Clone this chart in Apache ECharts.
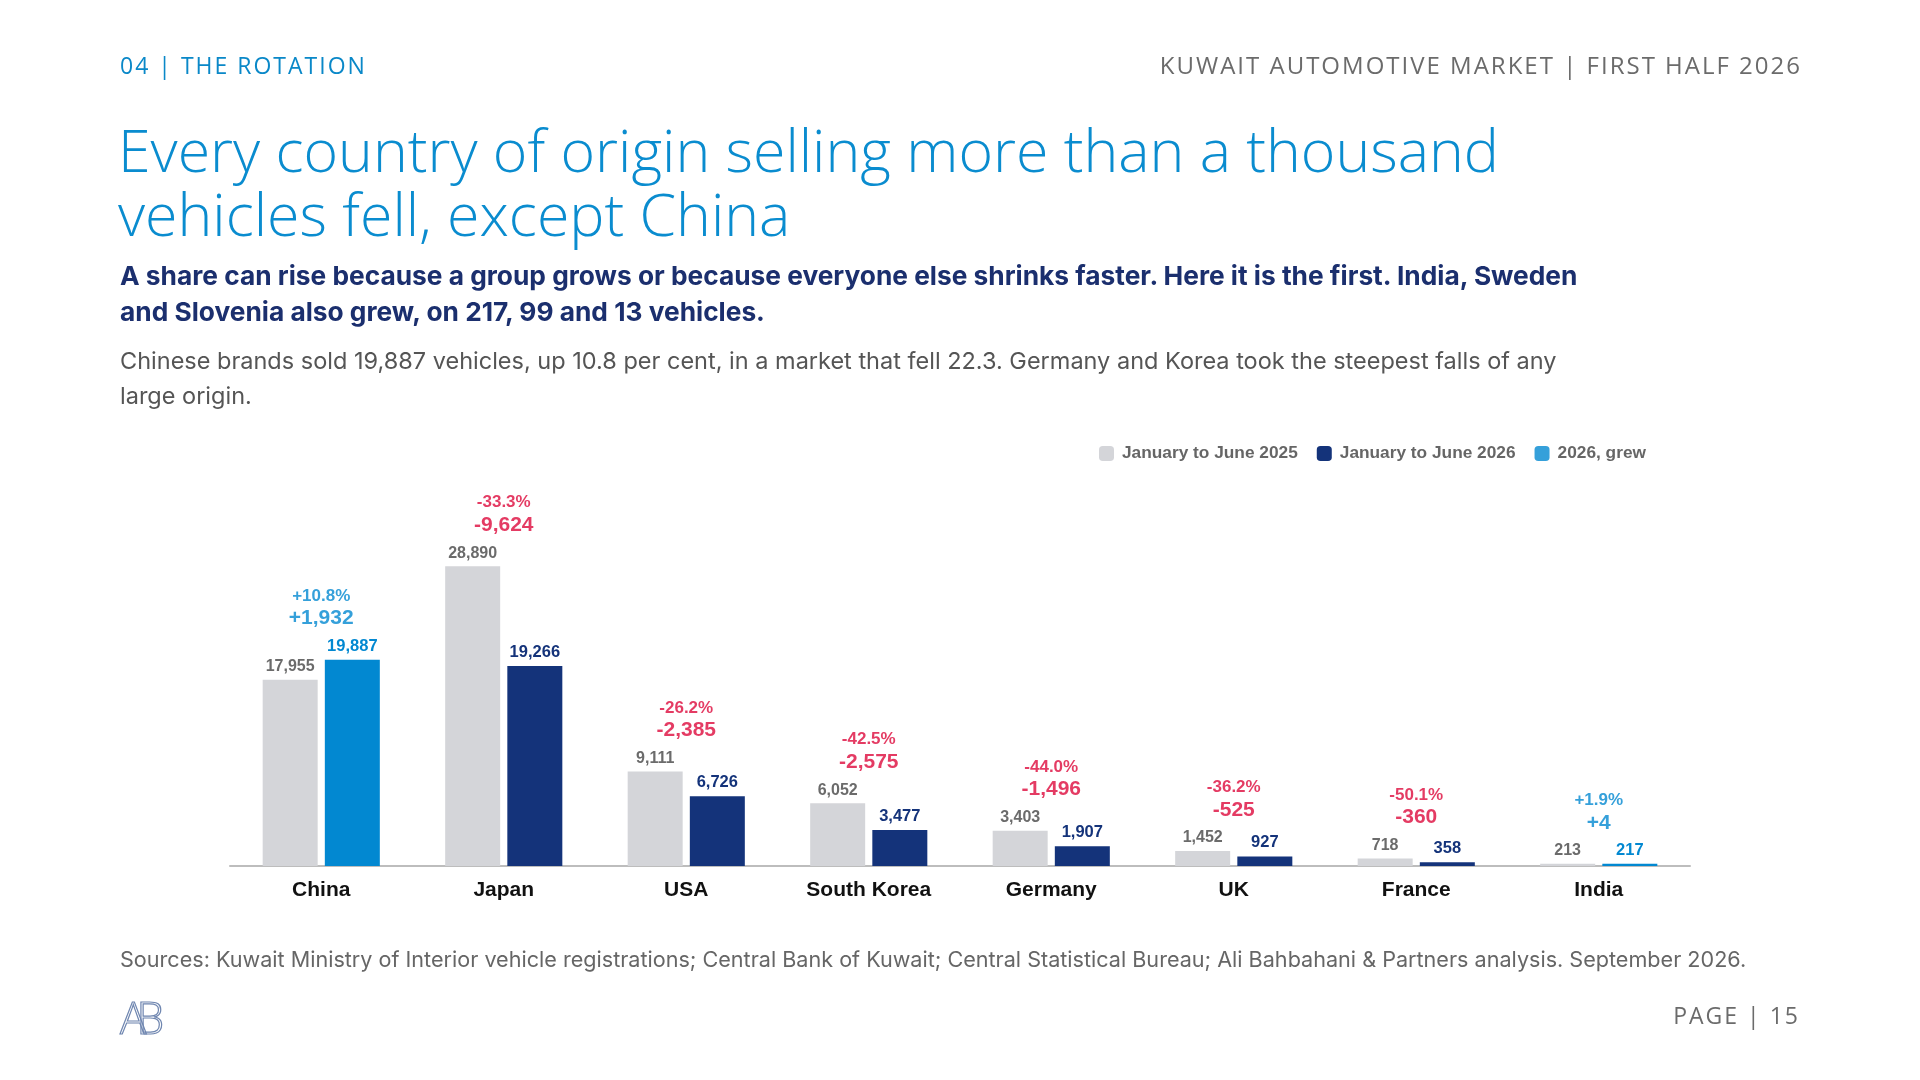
<!DOCTYPE html>
<html>
<head>
<meta charset="utf-8">
<script src="https://cdn.jsdelivr.net/npm/echarts@6/dist/echarts.min.js"></script>
<style>
  html, body { margin: 0; padding: 0; background: #fff; }
  #page { position: relative; width: 1920px; height: 1080px; overflow: hidden; background: #fff; }
  #chart { position: absolute; left: 0; top: 0; width: 1920px; height: 1080px; }
  .txt { position: absolute; white-space: nowrap; }
  .kicker { left: 120px; top: 50px; font: 400 23px/30px "Open Sans", sans-serif; letter-spacing: 2px; color: #0a88c8; }
  .market { right: 118px; top: 50px; font: 400 24px/30px "Open Sans", sans-serif; letter-spacing: 2px; color: #6b6b6b; }
  .title { left: 118px; top: 117px; font: 300 59px/64px "Open Sans", sans-serif; color: #0a8ccf; }
  .lead { left: 120px; top: 258px; font: 700 26.3px/35.5px Inter, sans-serif; color: #1b2f6e; }
  .body { left: 120px; top: 343px; font: 400 23.5px/35px Inter, sans-serif; color: #555; }
  .sources { left: 120px; top: 944px; font: 400 21.6px/30px Inter, sans-serif; color: #666; }
  .pageno { right: 120px; top: 1000px; font: 400 23px/30px "Open Sans", sans-serif; letter-spacing: 2px; color: #6b6b6b; }
  .logo { left: 120px; top: 995px; font: 300 44px/44px "Open Sans", sans-serif; color: transparent; -webkit-text-stroke: 1.2px #6f86b0; letter-spacing: -10px; }
</style>
</head>
<body>
<div id="page">
  <div id="chart"></div>
  <div class="txt kicker">04 | THE ROTATION</div>
  <div class="txt market">KUWAIT AUTOMOTIVE MARKET | FIRST HALF 2026</div>
  <div class="txt title">Every country of origin selling more than a thousand<br>vehicles fell, except China</div>
  <div class="txt lead">A share can rise because a group grows or because everyone else shrinks faster. Here it is the first. India, Sweden<br>and Slovenia also grew, on 217, 99 and 13 vehicles.</div>
  <div class="txt body">Chinese brands sold 19,887 vehicles, up 10.8 per cent, in a market that fell 22.3. Germany and Korea took the steepest falls of any<br>large origin.</div>
  <div class="txt sources">Sources: Kuwait Ministry of Interior vehicle registrations; Central Bank of Kuwait; Central Statistical Bureau; Ali Bahbahani &amp; Partners analysis. September 2026.</div>
  <div class="txt logo">AB</div>
  <div class="txt pageno">PAGE | 15</div>
</div>
<script>
(function (window) {
    'use strict';
    // 数据
    var origins = ['China', 'Japan', 'USA', 'South Korea', 'Germany', 'UK', 'France', 'India'];
    var h1_2025 = [17955, 28890, 9111, 6052, 3403, 1452, 718, 213];
    var h1_2026 = [19887, 19266, 6726, 3477, 1907, 927, 358, 217];
    var pctChange = ['+10.8%', '-33.3%', '-26.2%', '-42.5%', '-44.0%', '-36.2%', '-50.1%', '+1.9%'];
    var absChange = ['+1,932', '-9,624', '-2,385', '-2,575', '-1,496', '-525', '-360', '+4'];

    var gray = '#d4d5d9', navy = '#14337a', blue = '#0288d1', red = '#dd0a3c';
    var labelFont = '"Liberation Sans", Arial, sans-serif';

    function fmt(v) { return v.toLocaleString('en-US'); }

    var data2026 = h1_2026.map(function (v, i) {
        var up = v > h1_2025[i];
        return {
            value: v,
            itemStyle: { color: up ? blue : navy },
            label: { color: up ? blue : navy }
        };
    });

    var notes = h1_2026.map(function (v, i) {
        var up = v > h1_2025[i];
        return {
            value: Math.max(v, h1_2025[i]),
            label: {
                formatter: '{p|' + pctChange[i] + '}\n{a|' + absChange[i] + '}',
                rich: {
                    p: { fontSize: 17, fontWeight: 'bold', lineHeight: 21, color: up ? blue : red, fontFamily: labelFont, align: 'center' },
                    a: { fontSize: 21, fontWeight: 'bold', lineHeight: 24, color: up ? blue : red, fontFamily: labelFont, align: 'center' }
                }
            }
        };
    });

    var et = echarts.init(document.getElementById('chart'));
    et.setOption({
        animation: false,
        legend: {
            left: 1094,
            top: 440,
            icon: 'roundRect',
            itemWidth: 15,
            itemHeight: 15,
            itemGap: 19,
            data: ['January to June 2025', 'January to June 2026', '2026, grew'],
            textStyle: { fontSize: 17.3, fontWeight: 'bold', color: '#666', fontFamily: labelFont, padding: [0, 0, 0, 3] }
        },
        grid: { left: 230, right: 230, top: 451, bottom: 214 },
        xAxis: {
            type: 'category',
            data: origins,
            axisLine: { lineStyle: { color: '#bdbdbd', width: 2 } },
            axisTick: { show: false },
            axisLabel: { margin: 14, fontSize: 21, fontWeight: 'bold', color: '#111', fontFamily: labelFont }
        },
        yAxis: {
            type: 'value',
            min: 0,
            max: 40000,
            show: false,
            splitLine: { show: false }
        },
        series: [{
            name: 'January to June 2025',
            type: 'bar',
            barWidth: 55,
            barGap: '13%',
            itemStyle: { color: gray },
            label: {
                show: true, position: 'top', distance: 5,
                fontSize: 16, fontWeight: 'bold', color: '#6b6b6b', fontFamily: labelFont,
                formatter: function (p) { return fmt(p.value); }
            },
            data: h1_2025
        }, {
            name: 'January to June 2026',
            type: 'bar',
            barWidth: 55,
            barGap: '13%',
            itemStyle: { color: navy },
            label: {
                show: true, position: 'top', distance: 5,
                fontSize: 16.5, fontWeight: 'bold', fontFamily: labelFont,
                formatter: function (p) { return fmt(p.value); }
            },
            data: data2026
        }, {
            name: '2026, grew',
            type: 'scatter',
            itemStyle: { color: blue },
            data: []
        }, {
            name: 'notes',
            type: 'scatter',
            symbolSize: 0,
            silent: true,
            label: { show: true, position: 'top', distance: 29 },
            data: notes
        }]
    });
})(window);
</script>
</body>
</html>
